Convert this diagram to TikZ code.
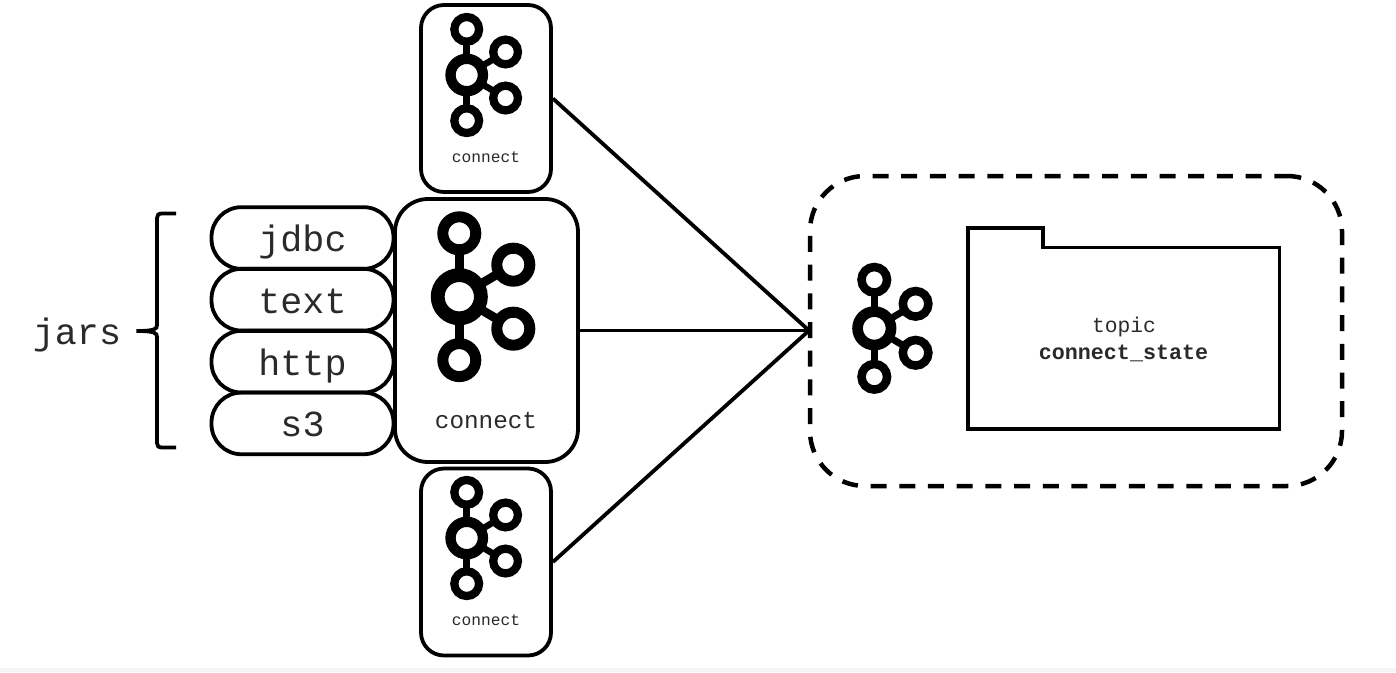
\documentclass[tikz,border=0pt]{standalone}
\usepackage{fontspec}
\setmainfont{Liberation Mono}
\usetikzlibrary{calc}
\definecolor{ink}{HTML}{000000}
\definecolor{txt}{HTML}{2A2A2A}
\tikzset{
  x=1pt,y=-1pt,
  pill/.style={draw=ink,line width=3.8pt,rounded corners=30pt,minimum width=182pt,minimum height=61.7pt,inner sep=0pt,
    text=txt,font=\fontsize{36.7}{40}\selectfont,text height=34.6pt,text depth=8pt},
  bigbox/.style={draw=ink,line width=3.8pt,rounded corners=33pt,minimum width=183pt,minimum height=263pt,inner sep=0pt},
  smallbox/.style={draw=ink,line width=3.8pt,rounded corners=23pt,minimum width=130pt,minimum height=187pt,inner sep=0pt},
  statebox/.style={draw=ink,line width=4.5pt,dash pattern=on 16pt off 12.7pt,dash phase=3.3pt,rounded corners=55pt,minimum width=532pt,minimum height=310pt,inner sep=0pt},
  link/.style={draw=ink,line width=3.8pt},
  lab/.style={anchor=base,inner sep=0pt,text=txt},
  ring/.style={circle,draw=ink,inner sep=0pt,outer sep=0pt}
}
% name, x, y, position scale, ring scale
\newcommand{\kafkalogo}[5]{%
  \pgfmathsetmacro{\ks}{#4}%
  \pgfmathsetmacro{\kr}{#5}%
  \pgfmathsetmacro{\kdx}{54*\ks}%
  \pgfmathsetmacro{\kdy}{32*\ks}%
  \pgfmathsetmacro{\kvv}{63.4*\ks}%
  \pgfmathsetmacro{\krs}{33*\kr}%
  \pgfmathsetmacro{\kws}{11*\kr}%
  \pgfmathsetmacro{\krc}{43.2*\kr}%
  \pgfmathsetmacro{\kwc}{13.8*\kr}%
  \pgfmathsetmacro{\kwl}{9*\ks}%
  \node[ring,line width=\kwc pt,minimum size=\krc pt] (#1c) at (#2,#3) {};
  \node[ring,line width=\kws pt,minimum size=\krs pt] (#1t) at ($(#1c)+(0,-\kvv)$) {};
  \node[ring,line width=\kws pt,minimum size=\krs pt] (#1b) at ($(#1c)+(0,\kvv)$) {};
  \node[ring,line width=\kws pt,minimum size=\krs pt] (#1u) at ($(#1c)+(\kdx,-\kdy)$) {};
  \node[ring,line width=\kws pt,minimum size=\krs pt] (#1d) at ($(#1c)+(\kdx,\kdy)$) {};
  \draw[line width=\kwl pt] (#1c) -- (#1t);
  \draw[line width=\kwl pt] (#1c) -- (#1b);
  \draw[line width=\kwl pt] (#1c) -- (#1u);
  \draw[line width=\kwl pt] (#1c) -- (#1d);
}
\begin{document}
\begin{tikzpicture}
\useasboundingbox (0,0) rectangle (1396,672);
\fill[white] (0,0) rectangle (1396,672);
\fill[black!4] (0,668) rectangle (1396,672);

% jar pills
\node[pill] (jdbc) at (302.5,238) {jdbc};
\node[pill] (textj) at (302.5,299.7) {text};
\node[pill] (http) at (302.5,361.7) {http};
\node[pill] (sthree) at (302.5,423.4) {s3};

% connect boxes
\node[bigbox] (main) at (486.5,330.5) {};
\node[smallbox] (top) at (486,98.5) {};
\node[smallbox] (bottom) at (486,562) {};

% logos
\kafkalogo{lm}{459.3}{296.7}{1}{1}
\kafkalogo{lt}{466.7}{75}{0.72}{0.75}
\kafkalogo{lb}{466.7}{538}{0.72}{0.75}
\kafkalogo{ls}{874.3}{328.3}{0.765}{0.775}

% connect labels
\node[lab,font=\fontsize{24.3}{28}\selectfont] (mainlab) at (486,428) {connect};
\node[lab,font=\fontsize{16.2}{20}\selectfont] (toplab) at (486,162) {connect};
\node[lab,font=\fontsize{16.2}{20}\selectfont] (bottomlab) at (486,625) {connect};

% jars label and brace
\node[lab,font=\fontsize{36.7}{40}\selectfont] (jars) at (77,344) {jars};
\coordinate (bracetip) at (136.5,331);
\draw[line width=3.8pt] (176,213.5) -- (162,213.5) .. controls (158.5,213.5) and (157,215) .. (157,218) -- (157,325)
  .. controls (157,329) and (155,331) .. (bracetip)
  .. controls (155,331) and (157,333) .. (157,337) -- (157,443)
  .. controls (157,446) and (158.5,447.5) .. (162,447.5) -- (176,447.5);

% state box
\node[statebox] (state) at (1076,331) {};
\coordinate (hub) at (809,330.5);

% links
\draw[link] (top.east) -- (hub);
\draw[link] (main.east) -- (hub);
\draw[link] (bottom.east) -- (hub);

% folder
\draw[line width=3.7pt,line join=miter] (968,429) -- (968,228) -- (1043,228) -- (1043,247.5) -- (1279.5,247.5) -- (1279.5,429) -- cycle;
\node[lab,font=\fontsize{21.3}{25}\selectfont] (topic) at (1124,332) {topic};
\node[lab,font=\fontsize{21.7}{25}\selectfont\bfseries] (cstate) at (1123.5,359) {connect\_state};
\end{tikzpicture}
\end{document}
